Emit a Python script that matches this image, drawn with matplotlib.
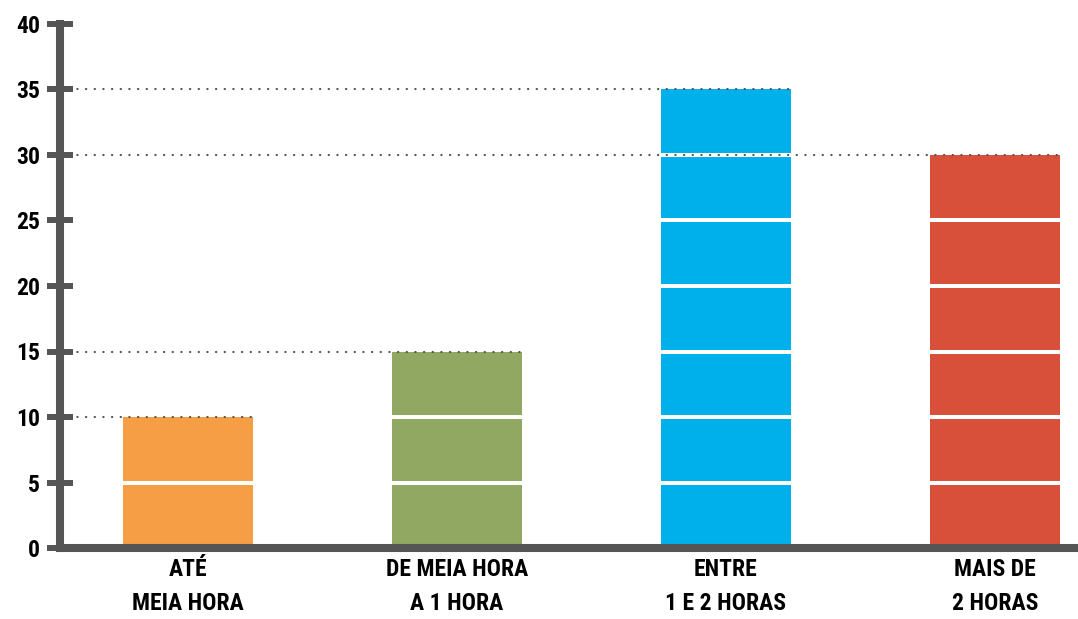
import matplotlib.pyplot as plt
import numpy as np

categories = ['ATÉ\nMEIA HORA', 'DE MEIA HORA\nA 1 HORA', 'ENTRE\n1 E 2 HORAS', 'MAIS DE\n2 HORAS']
values = [10, 15, 35, 30]
colors = ['#F59E45', '#90A862', '#00B0EA', '#D9503A']
yticks = [0, 5, 10, 15, 20, 25, 30, 35, 40]

plt.rcParams['font.family'] = ['Roboto Condensed', 'DejaVu Sans']
plt.rcParams['font.weight'] = 'bold'

gray = '#555555'
fig = plt.figure(figsize=(10.78, 6.19), dpi=100)
ax = fig.add_axes([60 / 1078, 71 / 619, 1 - 60 / 1078, (548 - 24) / 619])

x = np.arange(len(categories))
w = 0.483
ax.bar(x, values, width=w, color=colors, zorder=1)

xmin, xmax = -0.476, 3.309
ax.set_xlim(xmin, xmax)
ax.set_ylim(0, 40)

# white separators every 5 units inside each bar
for xi, v in zip(x, values):
    for level in range(5, v, 5):
        ax.plot([xi - w / 2, xi + w / 2], [level, level], color='white', lw=2.9, zorder=2,
                solid_capstyle='butt')

# dotted guide from the axis to the top of each bar
for xi, v in zip(x, values):
    ax.plot([xmin, xi + w / 2], [v, v], color=gray, lw=1.6, linestyle=(0, (0.1, 3.8)),
            dash_capstyle='round', zorder=3)

for s in ['top', 'right']:
    ax.spines[s].set_visible(False)
for s in ['left', 'bottom']:
    ax.spines[s].set_color(gray)
    ax.spines[s].set_linewidth(5.8)
    ax.spines[s].set_zorder(4)
ax.spines['left'].set_bounds(0, 40)

ax.set_yticks(yticks)
ax.tick_params(axis='y', direction='inout', length=19, width=4.3, color=gray,
               labelsize=17, pad=5)
ax.set_xticks(x)
ax.set_xticklabels(categories, fontsize=17, linespacing=1.65)
ax.tick_params(axis='x', length=0, pad=7)

fig.savefig('out.png', dpi=100)
